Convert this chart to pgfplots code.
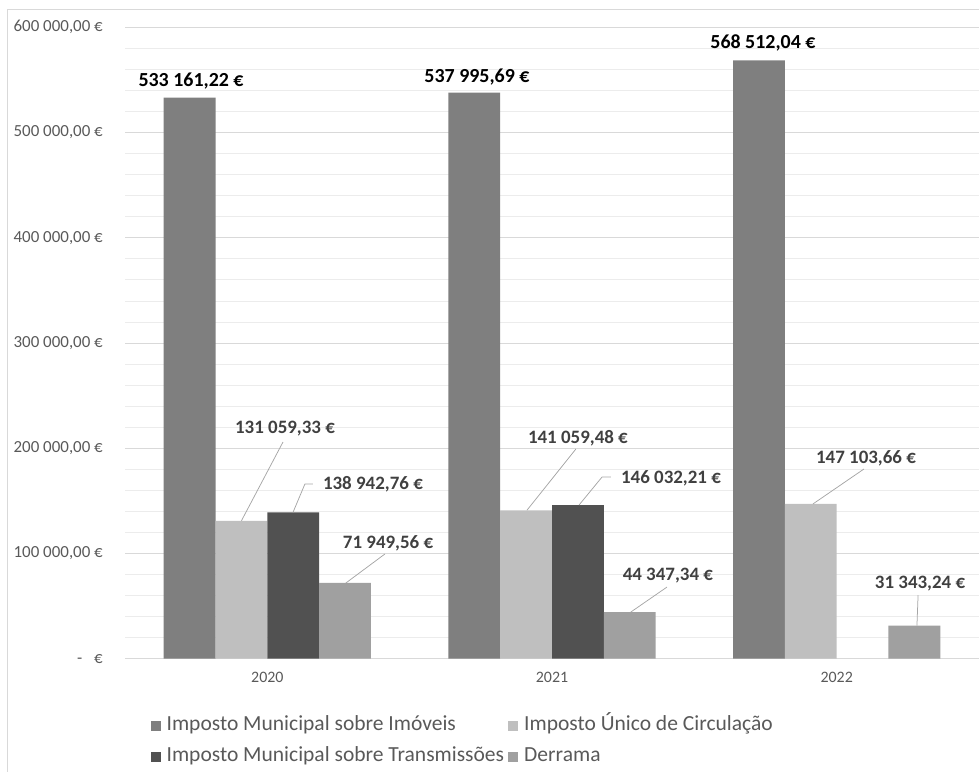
\documentclass[border=0pt]{standalone}
\usepackage{pgfplots}
\pgfplotsset{compat=1.18}
\usepackage{fontspec}
\setmainfont{Carlito}
\definecolor{imi}{HTML}{7F7F7F}
\definecolor{iuc}{HTML}{BFBFBF}
\definecolor{imt}{HTML}{515151}
\definecolor{der}{HTML}{A0A0A0}
\definecolor{txt}{HTML}{595959}
\definecolor{lbl}{HTML}{404040}
\definecolor{gridc}{HTML}{D9D9D9}
\definecolor{mgrid}{HTML}{ECECEC}
\definecolor{lead}{HTML}{A6A6A6}
\begin{document}
\begin{tikzpicture}
\useasboundingbox (0,0) rectangle (979bp,772bp);
\draw[gridc, line width=0.75bp] (7bp,0) -- (7bp,763bp) -- (979bp,763bp);
\begin{axis}[
  at={(125bp,113.3bp)}, anchor=south west,
  scale only axis, width=854bp, height=631.4bp,
  xmin=-0.5, xmax=2.5, ymin=0, ymax=600000,
  ybar, bar width=0.182,
  axis line style={draw=none},
  major tick length=0pt, minor tick length=0pt,
  xtick={0,1,2}, xticklabels={2020,2021,2022},
  ytick={0,100000,200000,300000,400000,500000,600000},
  yticklabels={{-\hspace{12bp}€},{100 000,00 €},{200 000,00 €},{300 000,00 €},{400 000,00 €},{500 000,00 €},{600 000,00 €}},
  minor y tick num=4,
  ymajorgrids, yminorgrids,
  major grid style={draw=gridc, line width=0.75bp},
  minor grid style={draw=mgrid, line width=0.75bp},
  yticklabel style={font=\fontsize{17}{20}\selectfont, text=txt, inner sep=0pt, anchor=east, xshift=-22bp},
  xticklabel style={font=\fontsize{16}{19}\selectfont, text=txt, inner sep=0pt, anchor=center, yshift=-19bp},
  scaled y ticks=false,
  clip=false,
  legend columns=2,
  legend cell align=left,
  legend image code/.code={\draw[#1, draw=none] (0bp,-5bp) rectangle (10bp,5bp);},
  legend style={at={(axis description cs:0.030,-0.089)}, anchor=north west,
    draw=none, fill=none, inner sep=0pt, outer sep=0pt,
    font=\fontsize{21.6}{25}\selectfont, text=txt,
    nodes={inner sep=2bp, text height=14bp, text depth=4bp},
    row sep=9bp,
    /tikz/every odd column/.append style={column sep=4bp},
    /tikz/every even column/.append style={column sep=2bp}},
]
\addplot[fill=imi, draw=none, bar shift=-0.273] coordinates {(0,533161.22) (1,537995.69) (2,568512.04)};
\addlegendentry{Imposto Municipal sobre Imóveis}
\addplot[fill=iuc, draw=none, bar shift=-0.091] coordinates {(0,131059.33) (1,141059.48) (2,147103.66)};
\addlegendentry{Imposto Único de Circulação}
\addplot[fill=imt, draw=none, bar shift=0.091] coordinates {(0,138942.76) (1,146032.21)};
\addlegendentry{Imposto Municipal sobre Transmissões}
\addplot[fill=der, draw=none, bar shift=0.273] coordinates {(0,71949.56) (1,44347.34) (2,31343.24)};
\addlegendentry{Derrama}

% leader lines
\draw[lead, line width=0.75bp] (axis cs:0.055,205900) -- (axis cs:-0.091,131059);
\draw[lead, line width=0.75bp] (axis cs:0.160,166000) -- (axis cs:0.132,166000) -- (axis cs:0.090,138943);
\draw[lead, line width=0.75bp] (axis cs:0.413,99500) -- (axis cs:0.276,71950);
\draw[lead, line width=0.75bp] (axis cs:1.084,199300) -- (axis cs:0.912,141059);
\draw[lead, line width=0.75bp] (axis cs:1.207,172700) -- (axis cs:1.176,172700) -- (axis cs:1.095,146032);
\draw[lead, line width=0.75bp] (axis cs:1.404,68100) -- (axis cs:1.277,44347);
\draw[lead, line width=0.75bp] (axis cs:2.096,180300) -- (axis cs:1.917,147104);
\draw[lead, line width=0.75bp] (axis cs:2.286,60500) -- (axis cs:2.282,31343);

% data labels
\begin{scope}[every node/.style={font=\bfseries\fontsize{20}{24}\selectfont, text=black, inner sep=0pt}]
\node at (axis cs:-0.268,549000) {533 161,22 €};
\node at (axis cs:0.7365,552800) {537 995,69 €};
\node at (axis cs:1.741,585100) {568 512,04 €};
\end{scope}
\begin{scope}[every node/.style={font=\bfseries\fontsize{19}{23}\selectfont, text=lbl, inner sep=0pt}]
\node at (axis cs:0.062,218300) {131 059,33 €};
\node at (axis cs:0.371,166000) {138 942,76 €};
\node at (axis cs:0.424,109900) {71 949,56 €};
\node at (axis cs:1.091,209700) {141 059,48 €};
\node at (axis cs:1.418,171700) {146 032,21 €};
\node at (axis cs:1.407,78600) {44 347,34 €};
\node at (axis cs:2.103,190700) {147 103,66 €};
\node at (axis cs:2.293,71000) {31 343,24 €};
\end{scope}
\end{axis}
\end{tikzpicture}
\end{document}
